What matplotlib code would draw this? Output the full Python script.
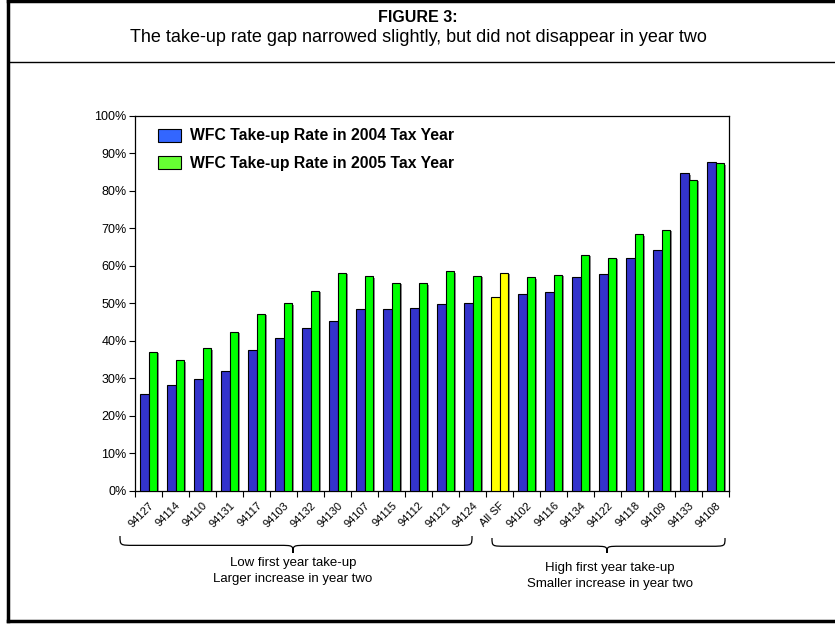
import matplotlib
matplotlib.use("Agg")
import matplotlib.pyplot as plt
import numpy as np
from matplotlib.patches import Patch, PathPatch
from matplotlib.path import Path
from matplotlib.lines import Line2D
import matplotlib.patheffects as pe

plt.rcParams['font.family'] = ['Liberation Sans', 'DejaVu Sans']

categories = ["94127", "94114", "94110", "94131", "94117", "94103", "94132", "94130",
              "94107", "94115", "94112", "94121", "94124", "All SF", "94102", "94116",
              "94134", "94122", "94118", "94109", "94133", "94108"]
rate_2004 = [25.8, 28.1, 29.7, 31.8, 37.6, 40.8, 43.4, 45.3, 48.4, 48.4, 48.6, 49.8, 50.0,
             51.6, 52.5, 53.0, 56.9, 57.9, 62.2, 64.2, 84.7, 87.6]
rate_2005 = [37.1, 34.8, 38.0, 42.4, 47.2, 50.0, 53.3, 58.2, 57.2, 55.5, 55.3, 58.5, 57.3,
             58.2, 56.9, 57.6, 63.0, 62.2, 68.4, 69.6, 82.9, 87.3]
yticks = [0, 10, 20, 30, 40, 50, 60, 70, 80, 90, 100]
legend_labels = ["WFC Take-up Rate in 2004 Tax Year", "WFC Take-up Rate in 2005 Tax Year"]
title = "FIGURE 3:"
subtitle = "The take-up rate gap narrowed slightly, but did not disappear in year two"
group_left = "Low first year take-up\nLarger increase in year two"
group_right = "High first year take-up\nSmaller increase in year two"

W, H = 835, 624
fig = plt.figure(figsize=(W / 100, H / 100), dpi=100)

def fx(x):
    return x / W

def fy(y):
    return 1 - y / H

ax = fig.add_axes([fx(135), fy(490.7), fx(729.3) - fx(135), fy(115.8) - fy(490.7)])

n = len(categories)
x = np.arange(n)
bw = 0.31
c04 = ['#FFFF00' if c == "All SF" else '#3333CC' for c in categories]
c05 = ['#FFFF00' if c == "All SF" else '#00FF00' for c in categories]
shadow = [pe.SimplePatchShadow(offset=(1.5, -1.0), shadow_rgbFace='#808080', alpha=0.9), pe.Normal()]
b1 = ax.bar(x - bw / 2, rate_2004, width=bw, color=c04, edgecolor='black', linewidth=0.8, zorder=3)
b2 = ax.bar(x + bw / 2, rate_2005, width=bw, color=c05, edgecolor='black', linewidth=0.8, zorder=3)
for b in list(b1) + list(b2):
    b.set_path_effects(shadow)

ax.set_xlim(-0.5, n - 0.5)
ax.set_ylim(0, 100)
ax.set_yticks(yticks)
ax.set_yticklabels([f"{v}%" for v in yticks], fontsize=9)
ax.set_xticks(x)
ax.set_xticklabels(categories, rotation=45, ha='right', va='top', rotation_mode='anchor', fontsize=8)
ax.set_xticks(np.arange(n + 1) - 0.5, minor=True)
ax.tick_params(axis='x', which='major', length=0, pad=7)
ax.tick_params(axis='x', which='minor', length=4, direction='out', width=0.8)
ax.tick_params(axis='y', length=4, direction='out', width=0.8, pad=2)
for s in ax.spines.values():
    s.set_linewidth(0.9)
    s.set_color('black')

handles = [Patch(facecolor='#3366FF', edgecolor='black', linewidth=0.8),
           Patch(facecolor='#66FF33', edgecolor='black', linewidth=0.8)]
leg = ax.legend(handles, legend_labels, loc='upper left', bbox_to_anchor=(0.028, 0.983),
                frameon=False, prop={'weight': 'bold', 'size': 11.3},
                handlelength=1.5, handleheight=0.9, labelspacing=0.8, handletextpad=0.55,
                borderaxespad=0)

# Title block
fig.text(fx(418), fy(17), title, ha='center', va='center', fontsize=11.5, fontweight='bold')
fig.text(fx(418), fy(37), subtitle, ha='center', va='center', fontsize=13)

# Frame lines
fig.add_artist(Line2D([fx(8), fx(835)], [fy(1), fy(1)], color='black', lw=2.5, transform=fig.transFigure))
fig.add_artist(Line2D([fx(8), fx(8)], [fy(1), fy(621)], color='black', lw=2.5, transform=fig.transFigure))
fig.add_artist(Line2D([fx(8), fx(835)], [fy(621), fy(621)], color='black', lw=2.5, transform=fig.transFigure))
fig.add_artist(Line2D([fx(8), fx(835)], [fy(62), fy(62)], color='black', lw=1.0, transform=fig.transFigure))

def brace(x0, x1, xm, ytop, h):
    ym = ytop + h * 0.55
    yt = ytop + h
    r = 14
    pts = [(x0, ytop), (x0, ym), (x0, ym), (x0 + r, ym),
           (xm - r, ym),
           (xm, ym), (xm, ym), (xm, yt),
           (xm, ym), (xm, ym), (xm + r, ym),
           (x1 - r, ym),
           (x1, ym), (x1, ym), (x1, ytop)]
    codes = [Path.MOVETO, Path.CURVE4, Path.CURVE4, Path.CURVE4,
             Path.LINETO,
             Path.CURVE4, Path.CURVE4, Path.CURVE4,
             Path.CURVE4, Path.CURVE4, Path.CURVE4,
             Path.LINETO,
             Path.CURVE4, Path.CURVE4, Path.CURVE4]
    verts = [(fx(px), fy(py)) for px, py in pts]
    p = PathPatch(Path(verts, codes), facecolor='none', edgecolor='black', lw=0.9,
                  transform=fig.transFigure)
    fig.add_artist(p)

brace(120, 472, 293, 536, 17)
brace(492, 725, 607, 538, 15)

fig.text(fx(293), fy(571), group_left, ha='center', va='center', fontsize=9.5, linespacing=1.45)
fig.text(fx(610), fy(576), group_right, ha='center', va='center', fontsize=9.5, linespacing=1.45)

fig.savefig("out.png", dpi=100)
